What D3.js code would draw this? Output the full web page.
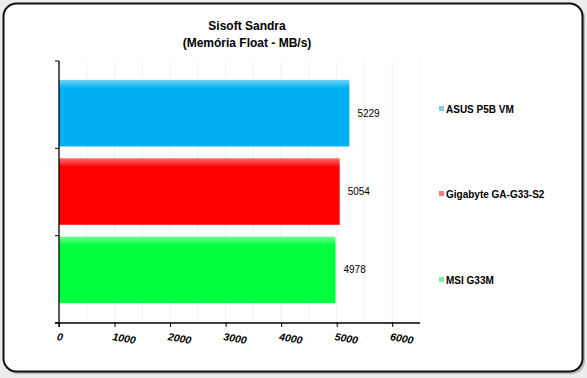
<!DOCTYPE html>
<html>
<head>
<meta charset="utf-8">
<script src="https://cdnjs.cloudflare.com/ajax/libs/d3/7.8.5/d3.min.js"></script>
<style>
  body { margin: 0; background: #ececec; }
  svg { display: block; font-family: Arial, "Liberation Sans", sans-serif; }
</style>
</head>
<body>
<svg width="587" height="378"></svg>
<script>
var boards = ["ASUS P5B VM", "Gigabyte GA-G33-S2", "MSI G33M"];
var values = [5229, 5054, 4978];
var barColors = ["#00b0f0", "#ff0000", "#00ff3c"];
var legendColors = ["#80cdf0", "#f07b7b", "#7bf09a"];
var xTicks = [0, 1000, 2000, 3000, 4000, 5000, 6000];
var titleLines = ["Sisoft Sandra", "(Memória Float - MB/s)"];

var svg = d3.select("svg");

// frame
svg.append("rect")
  .attr("x", 5).attr("y", 5).attr("width", 580).attr("height", 369)
  .attr("rx", 13).attr("fill", "#9a9a9a").attr("opacity", 0.6);
svg.append("rect")
  .attr("x", 3.5).attr("y", 3.5).attr("width", 579).attr("height", 368)
  .attr("rx", 13).attr("fill", "#fff").attr("stroke", "#111").attr("stroke-width", 2);

var margin = { top: 61, left: 59 },
  width = 420 - 59,
  height = 323 - 61,
  g = svg.append("g").attr("transform", "translate(" + margin.left + "," + margin.top + ")");

var x = d3.scaleLinear().domain([0, 6500]).range([0, width]);

// slots of the category axis
var ySlot = d3.scaleBand().domain(boards).range([0, height]);
// bars sit a bit off the slot centres in the original
var y = d3.scaleBand().domain(boards).range([13, 248]).paddingInner(0.15).paddingOuter(0.075);

// faint gridlines every 500
g.append("g")
  .selectAll("line")
  .data(d3.range(500, 6501, 500))
  .enter().append("line")
  .attr("x1", function(d) { return x(d); })
  .attr("x2", function(d) { return x(d); })
  .attr("y1", 0).attr("y2", height)
  .attr("stroke", "#f2f2f2")
  .attr("stroke-width", 1);

// gradients
var defs = svg.append("defs");
barColors.forEach(function(c, i) {
  var grad = defs.append("linearGradient")
    .attr("id", "grad" + i)
    .attr("x1", 0).attr("y1", 0).attr("x2", 0).attr("y2", 1);
  var light = d3.interpolateRgb(c, "#fff")(0.45);
  grad.append("stop").attr("offset", "0%").attr("stop-color", light);
  grad.append("stop").attr("offset", "13%").attr("stop-color", c);
  grad.append("stop").attr("offset", "100%").attr("stop-color", c);
});

var bars = g.selectAll(".bar")
  .data(boards)
  .enter().append("g")
  .attr("class", "bar");

bars.append("rect")
  .attr("x", x(0))
  .attr("y", function(d) { return y(d); })
  .attr("width", function(d, i) { return x(values[i]) - x(0); })
  .attr("height", y.bandwidth())
  .attr("fill", function(d, i) { return "url(#grad" + i + ")"; });

bars.append("text")
  .attr("x", function(d, i) { return x(values[i]) + 8; })
  .attr("y", function(d) { return y(d) + y.bandwidth() / 2; })
  .attr("dy", "0.35em")
  .style("font-size", "10px")
  .text(function(d, i) { return values[i]; });

// x axis
var xAxis = g.append("g")
  .attr("transform", "translate(0," + height + ")")
  .call(d3.axisBottom(x).tickValues(xTicks).tickFormat(d3.format("d"))
    .tickSize(4).tickSizeOuter(0).tickPadding(0));
xAxis.select(".domain").attr("d", "M-4,0H" + width).attr("stroke", "#000").attr("stroke-width", 1.3);
xAxis.selectAll(".tick line").attr("y1", -1).attr("y2", 4);
xAxis.selectAll(".tick text")
  .attr("text-anchor", "start")
  .attr("y", 0)
  .attr("dy", 0)
  .attr("transform", "translate(-3,17) rotate(10)")
  .style("font-size", "10.5px")
  .style("font-weight", "bold")
  .style("font-style", "italic")
  .attr("fill", "#000");

// y axis with slot separators
var slotEdges = boards.map(function(d) { return ySlot(d); }).concat([height]);
g.append("line")
  .attr("x1", 0).attr("x2", 0).attr("y1", 0).attr("y2", height + 4)
  .attr("stroke", "#000").attr("stroke-width", 1.3);
g.selectAll(".ytick")
  .data(slotEdges)
  .enter().append("line")
  .attr("class", "ytick")
  .attr("x1", -4).attr("x2", 0)
  .attr("y1", function(d) { return d; })
  .attr("y2", function(d) { return d; })
  .attr("stroke", "#000");

// title
svg.append("text")
  .attr("x", 247).attr("y", 30)
  .attr("text-anchor", "middle")
  .style("font-size", "12px").style("font-weight", "bold")
  .text(titleLines[0]);
svg.append("text")
  .attr("x", 247).attr("y", 47)
  .attr("text-anchor", "middle")
  .style("font-size", "12px").style("font-weight", "bold")
  .text(titleLines[1]);

// legend
var legendY = [109, 194, 280];
var legend = svg.selectAll(".legend")
  .data(boards)
  .enter().append("g")
  .attr("class", "legend")
  .attr("transform", function(d, i) { return "translate(439," + legendY[i] + ")"; });
legend.append("rect")
  .attr("x", 0).attr("y", -3).attr("width", 5).attr("height", 5)
  .attr("fill", function(d, i) { return legendColors[i]; });
legend.append("text")
  .attr("x", 7).attr("dy", "0.35em")
  .style("font-size", "10px").style("font-weight", "bold")
  .text(function(d) { return d; });
</script>
</body>
</html>
